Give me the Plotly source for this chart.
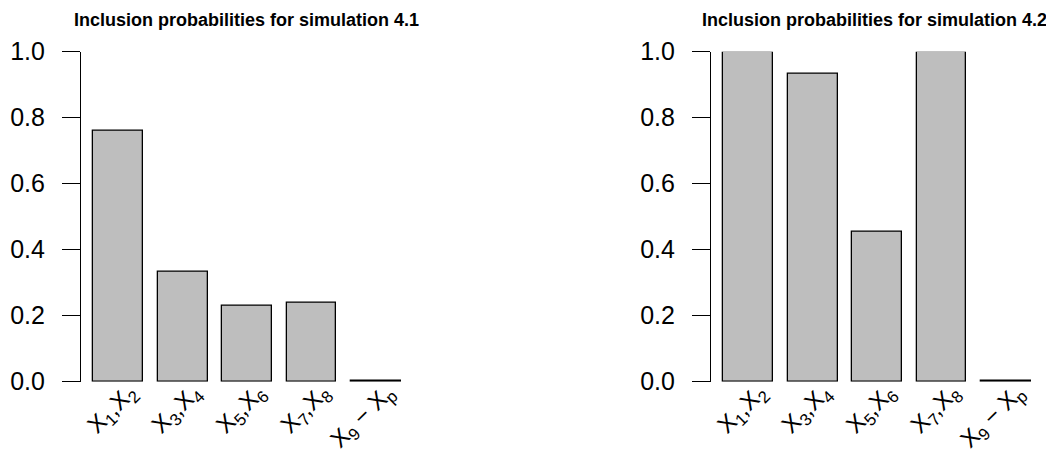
import plotly.graph_objects as go

categories = ["X<sub>1</sub>,X<sub>2</sub>", "X<sub>3</sub>,X<sub>4</sub>",
              "X<sub>5</sub>,X<sub>6</sub>", "X<sub>7</sub>,X<sub>8</sub>",
              "X<sub>9</sub> − X<sub>p</sub>"]
sim41 = [0.760, 0.332, 0.229, 0.239, 0.004]
sim42 = [1.0, 0.934, 0.456, 1.0, 0.004]
titles = ["Inclusion probabilities for simulation 4.1",
          "Inclusion probabilities for simulation 4.2"]
yticks = [0.0, 0.2, 0.4, 0.6, 0.8, 1.0]

# page body has an 8px margin: figure sized to fit the window
OFF = 8
W, H = 1054 - OFF, 450 - OFF
FONT = "Liberation Sans, Arial, sans-serif"


def fx(sx):
    return (sx - OFF) / W


def fy(sy):
    return 1 - (sy - OFF) / H


fig = go.Figure()
pos = list(range(len(categories)))

panels = [(sim41, "x", "y"), (sim42, "x2", "y2")]
for vals, xa, ya in panels:
    fig.add_trace(go.Bar(x=pos, y=vals, width=0.776, xaxis=xa, yaxis=ya,
                         marker=dict(color="#bebebe", line=dict(color="black", width=1.3)),
                         cliponaxis=False, showlegend=False, hoverinfo="skip"))

ydom = [fy(381.7), fy(51.7)]
xr = [-0.579, 4.545]
px_per_unit = 64.4
span = (xr[1] - xr[0]) * px_per_unit


def xaxis_cfg(left_px, anchor):
    return dict(domain=[fx(left_px), fx(left_px + span)], range=xr, anchor=anchor,
                tickmode="array", tickvals=pos, ticktext=categories,
                tickangle=-45, showline=False, showgrid=False, zeroline=False,
                ticks="", tickfont=dict(family=FONT, size=24, color="black"),
                automargin=False, ticklabelshift=11, ticklabelstandoff=-9)


def yaxis_cfg(anchor):
    return dict(domain=ydom, range=[0, 1], anchor=anchor,
                tickmode="array", tickvals=yticks, ticktext=[f"{v:.1f}" for v in yticks],
                showline=True, linecolor="black", linewidth=1.2,
                ticks="outside", ticklen=18, tickwidth=1.2, tickcolor="black",
                showgrid=False, zeroline=False, automargin=False,
                tickfont=dict(family=FONT, size=25, color="black"),
                ticklabelstandoff=12)


fig.update_layout(
    width=W, height=H, margin=dict(l=0, r=0, t=0, b=0, autoexpand=False),
    paper_bgcolor="white", plot_bgcolor="white",
    xaxis=xaxis_cfg(81, "y"), yaxis=yaxis_cfg("x"),
    xaxis2=xaxis_cfg(711, "y2"), yaxis2=yaxis_cfg("x2"),
    bargap=0,
)

for t, cx in zip(titles, [246, 874]):
    fig.add_annotation(text=f"<b>{t}</b>", x=fx(cx), y=fy(20), xref="paper", yref="paper",
                       xanchor="center", yanchor="middle", showarrow=False,
                       font=dict(family=FONT, size=18, color="black"))

fig.write_html("out.html")
